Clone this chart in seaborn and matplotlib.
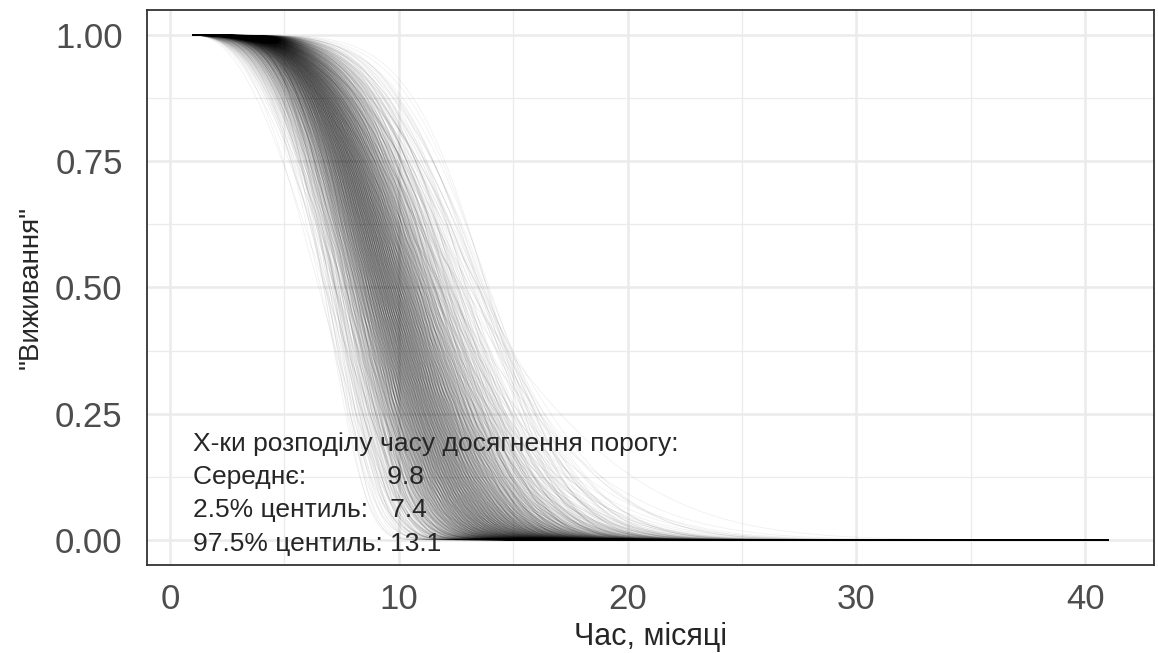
import numpy as np
import pandas as pd
import matplotlib
matplotlib.use("Agg")
import matplotlib.pyplot as plt
import seaborn as sns

# Weibull survival curves S(t) = exp(-((t - 1) / scale) ** shape)
# Scale draws (months)
scale_months = [6.59, 7.11, 7.40, 7.61, 7.80, 7.95, 8.10, 8.22, 8.34, 8.46,
                8.56, 8.67, 8.77, 8.87, 8.97, 9.06, 9.17, 9.25, 9.36, 9.45,
                9.55, 9.64, 9.75, 9.85, 9.96, 10.06, 10.17, 10.29, 10.41, 10.55,
                10.66, 10.82, 10.98, 11.15, 11.35, 11.57, 11.86, 12.19, 12.70, 13.69]
# Shape draws and the scale adjustment (months) that goes with each of them
shape_k = [2.26, 2.68, 2.91, 3.08, 3.22, 3.35, 3.46, 3.56, 3.65, 3.74,
           3.83, 3.92, 4.00, 4.08, 4.17, 4.26, 4.35, 4.44, 4.54, 4.65,
           4.78, 4.92, 5.09, 5.32, 5.74]
scale_offset = [0.21, -0.28, 0.04, 0.38, -0.12, -0.36, 0.15, 0.31, -0.19, 0.08,
                -0.03, 0.26, -0.32, 0.12, -0.22, 0.35, -0.07, 0.18, -0.38, 0.05,
                0.29, -0.15, -0.25, 0.10, 0.00]
time_start, time_end = 1, 41

x_ticks = [0, 10, 20, 30, 40]
y_ticks = [0.0, 0.25, 0.5, 0.75, 1.0]
y_tick_labels = ["0.00", "0.25", "0.50", "0.75", "1.00"]

header = "Х-ки розподілу часу досягнення порогу:"
stat_labels = ["Середнє:", "2.5% центиль:", "97.5% центиль:"]
stat_values = [9.8, 7.4, 13.1]

# One survival curve per draw
t = np.linspace(time_start, time_end, 401)
frames = []
cid = 0
for lam in scale_months:
    for k, off in zip(shape_k, scale_offset):
        s = np.exp(-((t - time_start) / (lam + off)) ** k)
        frames.append(pd.DataFrame({"t": t, "surv": s, "draw": cid}))
        cid += 1
curves = pd.concat(frames, ignore_index=True)

sns.set_style("white")
plt.rcParams["font.family"] = ["Liberation Sans", "DejaVu Sans"]

fig = plt.figure(figsize=(11.58, 6.53), dpi=100)
ax = fig.add_axes([0.1269, 0.1348, 0.9965 - 0.1269, 0.9847 - 0.1348])

sns.lineplot(data=curves, x="t", y="surv", units="draw", estimator=None,
             color="black", alpha=0.06, linewidth=0.6, ax=ax, legend=False)

ax.set_xlim(-1, 43)
ax.set_ylim(-0.05, 1.05)
ax.set_xticks(x_ticks)
ax.set_xticklabels([str(v) for v in x_ticks])
ax.set_yticks(y_ticks)
ax.set_yticklabels(y_tick_labels)
ax.set_xticks([5, 15, 25, 35], minor=True)
ax.set_yticks([0.125, 0.375, 0.625, 0.875], minor=True)
ax.set_axisbelow(True)
ax.grid(which="major", color="#EBEBEB", linewidth=1.8)
ax.grid(which="minor", color="#EBEBEB", linewidth=0.9)
ax.tick_params(which="major", length=6, width=1.4, color="#333333",
               labelcolor="#4D4D4D")
ax.tick_params(axis="y", which="major", labelsize=25, pad=11.5)
ax.tick_params(axis="x", which="major", labelsize=25, pad=7)
ax.tick_params(which="minor", length=0)
for sp in ax.spines.values():
    sp.set_color("#333333")
    sp.set_linewidth(1.3)

ax.set_xlabel("Час, місяці", fontsize=22, labelpad=4)
ax.set_ylabel("\"Виживання\"", fontsize=20, labelpad=8)

ax.text(1, 0.19, header, fontsize=19, va="center", ha="left")
line_y = [0.124, 0.058, -0.008]
pads = ["           ", "   ", " "]
for lab, val, pad, yy in zip(stat_labels, stat_values, pads, line_y):
    ax.text(1, yy, f"{lab}{pad}{val}", fontsize=19, va="center", ha="left")

fig.savefig("out.png", dpi=100)
